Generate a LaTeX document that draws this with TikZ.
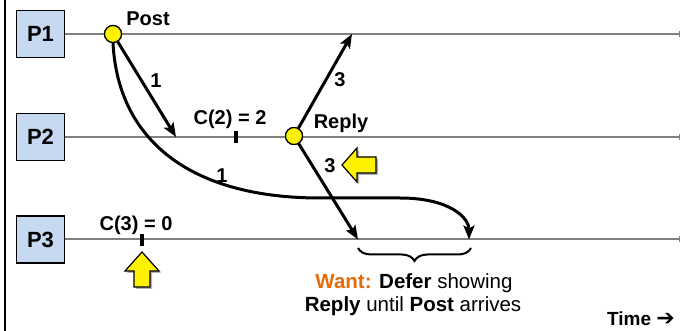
\documentclass[tikz,border=0pt]{standalone}
\usepackage{fontspec}
\setmainfont{Liberation Sans}
\newfontfamily\arrowfont{DejaVu Sans}
\usetikzlibrary{arrows.meta,decorations.pathreplacing}
\definecolor{procblue}{RGB}{198,217,241}
\definecolor{linegray}{RGB}{128,128,128}
\definecolor{wantorange}{RGB}{228,108,10}
\begin{document}
\begin{tikzpicture}[x=1pt,y=-1pt,
  proc/.style={draw=black,line width=1.5pt,fill=procblue,minimum width=48pt,minimum height=47pt,inner sep=0pt,font=\fontsize{22}{24}\selectfont\bfseries},
  tline/.style={draw=linegray,line width=2pt,-{Bar[width=6pt,line width=1.2pt]}},
  evt/.style={circle,draw=black,line width=1.2pt,fill=yellow,minimum size=17pt,inner sep=0pt},
  msg/.style={draw=black,line width=3pt,-{Stealth[length=14pt,width=11pt,inset=3pt]}},
  lbl/.style={font=\fontsize{20}{22}\selectfont\bfseries,inner sep=0pt,anchor=base},
  tickmark/.style={draw=black,line width=4pt},
  yarrow/.style={draw=black,line width=1.2pt,fill=yellow,line join=miter},
  yshadow/.style={fill=black!30},
  note/.style={font=\fontsize{20.5}{22}\selectfont,inner sep=0pt,anchor=base}
]
\useasboundingbox (0,0) rectangle (681,331);
\draw[line width=2pt] (5,0) -- (5,331);

% process boxes
\node[proc] (P1) at (40.5,34) {P1};
\node[proc] (P2) at (40.5,137) {P2};
\node[proc] (P3) at (40.5,239.5) {P3};

\coordinate (e1) at (680,34);
\coordinate (e2) at (680,137);
\coordinate (e3) at (680,239.5);
\draw[tline] (P1.east) -- (e1);
\draw[tline] (P2.east) -- (e2);
\draw[tline] (P3.east) -- (e3);

% ticks
\draw[tickmark] (236,131) -- (236,143);
\draw[tickmark] (142,234) -- (142,246);

% message end points
\coordinate (a2) at (176,137);
\coordinate (a3) at (469,239.5);
\coordinate (r1) at (352,34);
\coordinate (r3) at (358,239.5);

\node[evt] (post) at (113,34) {};
\node[evt] (reply) at (294,136) {};

\draw[msg] (post) -- (a2);
\draw[msg] (post.south) .. controls (118,140) and (190,198) .. (320,198) -- (400,198) .. controls (450,198) and (469,218) .. (a3);
\draw[msg] (reply) -- (r1);
\draw[msg] (reply) -- (r3);
\node[evt] at (post) {};
\node[evt] at (reply) {};

% labels
\node[lbl] (lpost) at (148,26) {Post};
\node[lbl] (lreply) at (341,129) {Reply};
\node[lbl] (lc2) at (230,125) {C(2) = 2};
\node[lbl] (lc3) at (136,231) {C(3) = 0};
\node[lbl] (l1a) at (156,88) {1};
\node[lbl] (l1b) at (222,183) {1};
\node[lbl] (l3a) at (340,87) {3};
\node[lbl] (l3b) at (330,173) {3};

% yellow arrows
\fill[yshadow,shift={(2,2)}] (342,165) -- (357,148) -- (357,157) -- (376,157) -- (376,173) -- (357,173) -- (357,182) -- cycle;
\draw[yarrow] (342,165) -- (357,148) -- (357,157) -- (376,157) -- (376,173) -- (357,173) -- (357,182) -- cycle;
\fill[yshadow,shift={(2,2)}] (142,252) -- (159,271) -- (150,271) -- (150,287) -- (134,287) -- (134,271) -- (125,271) -- cycle;
\draw[yarrow] (142,252) -- (159,271) -- (150,271) -- (150,287) -- (134,287) -- (134,271) -- (125,271) -- cycle;

% brace
\draw[line width=2pt,decorate,decoration={brace,amplitude=13pt,mirror}] (358,248) -- (471,248);

% notes
\node[note] (want) at (414,289) {\textbf{\color{wantorange}Want:} \textbf{Defer} showing};
\node[note] (until) at (413,312) {\textbf{Reply} until \textbf{Post} arrives};
\node[lbl,font=\fontsize{19}{21}\selectfont\bfseries,anchor=base east] (time) at (675,326) {Time {\arrowfont\bfseries\fontsize{22}{24}\selectfont ➔}};
\end{tikzpicture}
\end{document}
